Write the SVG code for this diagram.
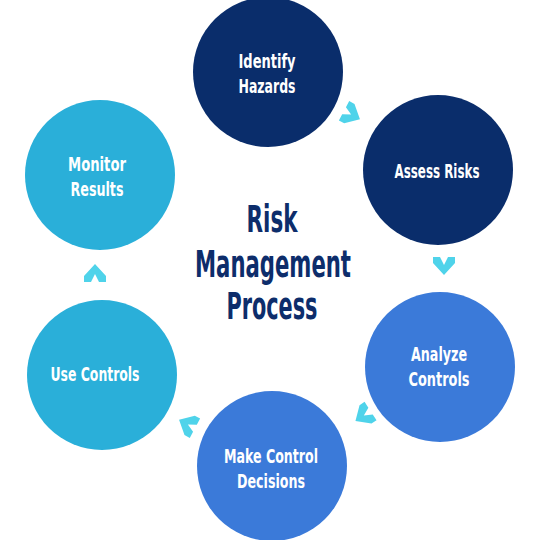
<svg xmlns="http://www.w3.org/2000/svg" width="537" height="540" viewBox="0 0 537 540">
<defs>
<style>
.lbl{font-family:"Liberation Sans Narrow","DejaVu Sans Condensed","Roboto",sans-serif;font-stretch:condensed;font-weight:bold;font-size:20px;fill:#ffffff;text-anchor:middle}
.ttl{font-family:"Liberation Sans Narrow","DejaVu Sans Condensed","Roboto",sans-serif;font-stretch:condensed;font-weight:bold;font-size:37px;fill:#0d2d6b;text-anchor:middle}
.navy{fill:#0a2d6b}
.blue{fill:#3b7ad9}
.sky{fill:#2aafd9}
.chev{fill:#4fd3ea}
</style>
<polygon id="chev" points="-11,-9 -4,-9 0,-1 4,-9 11,-9 11,-3 0,9 -11,-3"/>
</defs>
<rect width="537" height="540" fill="#ffffff"/>
<g id="connectors">
<use href="#chev" class="chev" transform="translate(352,115) rotate(-62)"/>
<use href="#chev" class="chev" transform="translate(444,266)"/>
<use href="#chev" class="chev" transform="translate(363,416) rotate(57)"/>
<use href="#chev" class="chev" transform="translate(187,424) rotate(118)"/>
<use href="#chev" class="chev" transform="translate(95,273) rotate(180)"/>
</g>
<g id="identify">
<circle class="navy" cx="268" cy="72" r="75"/>
<text class="lbl" x="267" y="68" textLength="57" lengthAdjust="spacingAndGlyphs">Identify</text>
<text class="lbl" x="267" y="93" textLength="57" lengthAdjust="spacingAndGlyphs">Hazards</text>
</g>
<g id="assess">
<circle class="navy" cx="438" cy="170" r="75"/>
<text class="lbl" x="437" y="178" textLength="85" lengthAdjust="spacingAndGlyphs">Assess Risks</text>
</g>
<g id="analyze">
<circle class="blue" cx="440" cy="367" r="75"/>
<text class="lbl" x="439" y="361" textLength="56" lengthAdjust="spacingAndGlyphs">Analyze</text>
<text class="lbl" x="439" y="386" textLength="61" lengthAdjust="spacingAndGlyphs">Controls</text>
</g>
<g id="decisions">
<circle class="blue" cx="272" cy="466" r="75"/>
<text class="lbl" x="271" y="463" textLength="94" lengthAdjust="spacingAndGlyphs">Make Control</text>
<text class="lbl" x="271" y="488" textLength="68" lengthAdjust="spacingAndGlyphs">Decisions</text>
</g>
<g id="use">
<circle class="sky" cx="102" cy="375" r="75"/>
<text class="lbl" x="95" y="381" textLength="89" lengthAdjust="spacingAndGlyphs">Use Controls</text>
</g>
<g id="monitor">
<circle class="sky" cx="100" cy="175" r="75"/>
<text class="lbl" x="97" y="171" textLength="58" lengthAdjust="spacingAndGlyphs">Monitor</text>
<text class="lbl" x="97" y="196" textLength="53" lengthAdjust="spacingAndGlyphs">Results</text>
</g>
<g id="title">
<text class="ttl" x="272" y="232" textLength="51" lengthAdjust="spacingAndGlyphs">Risk</text>
<text class="ttl" x="273" y="277" textLength="156" lengthAdjust="spacingAndGlyphs">Management</text>
<text class="ttl" x="272" y="319" textLength="91" lengthAdjust="spacingAndGlyphs">Process</text>
</g>
</svg>
